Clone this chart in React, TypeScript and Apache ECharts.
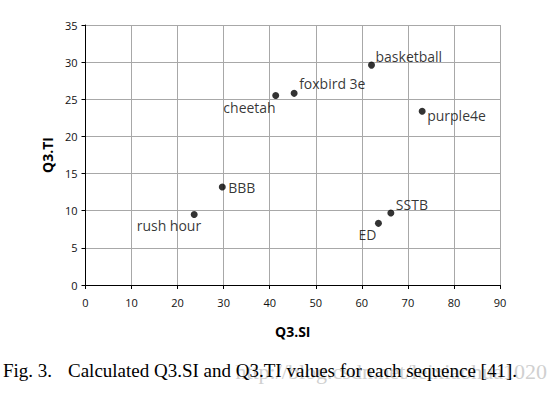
import React, { useEffect, useRef } from "react";
import * as echarts from "echarts";

const names = ["basketball", "foxbird 3e", "cheetah", "purple4e", "BBB", "rush hour", "SSTB", "ED"];
const siValues = [62.1, 45.3, 41.3, 73.1, 29.7, 23.6, 66.3, 63.6];
const tiValues = [29.6, 25.8, 25.5, 23.4, 13.2, 9.5, 9.7, 8.3];

// label placement: [align, dx, dy]
const labelPlacement: [string, number, number][] = [
  ["left", 4, -9],
  ["left", 5, -10],
  ["right", 0, 12],
  ["left", 5, 4],
  ["left", 6, 1],
  ["right", 7, 11],
  ["left", 5, -8],
  ["right", -2, 11],
];

const captionLabel = "Fig. 3.";
const captionText = "Calculated Q3.SI and Q3.TI values for each sequence [41].";
const watermark = "http://blog.csdn.net/leixiaohua1020";

export default function App() {
  const ref = useRef<HTMLDivElement>(null);
  useEffect(() => {
    const chart = echarts.init(ref.current!, null, { renderer: "svg" });
    const data = names.map((n, i) => ({
      name: n,
      value: [siValues[i], tiValues[i]],
      label: {
        show: true,
        position: "inside",
        align: labelPlacement[i][0],
        verticalAlign: "middle",
        offset: [labelPlacement[i][1], labelPlacement[i][2]],
        formatter: "{b}",
        color: "#000",
        fontFamily: "Open Sans",
        fontSize: 14,
      },
    }));
    chart.setOption({
      animation: false,
      backgroundColor: "#ffffff",
      grid: { left: 85.5, right: 48, top: 25, bottom: 110 },
      xAxis: {
        type: "value",
        min: 0,
        max: 90,
        interval: 10,
        name: "Q3.SI",
        nameLocation: "middle",
        nameGap: 39,
        nameTextStyle: { fontFamily: "Open Sans", fontWeight: "bold", fontSize: 14, color: "#000" },
        axisLine: { show: true, onZero: false, lineStyle: { color: "#000", width: 1 } },
        axisTick: { show: true, length: 4, lineStyle: { color: "#000" } },
        axisLabel: { fontFamily: "Open Sans", fontSize: 11, color: "#111", margin: 12 },
        splitLine: { show: true, lineStyle: { color: "#a8a8a8", width: 1 } },
      },
      yAxis: {
        type: "value",
        min: 0,
        max: 35,
        interval: 5,
        name: "Q3.TI",
        nameLocation: "middle",
        nameGap: 31,
        nameRotate: 90,
        nameTextStyle: { fontFamily: "Open Sans", fontWeight: "bold", fontSize: 14, color: "#000" },
        axisLine: { show: true, onZero: false, lineStyle: { color: "#000", width: 1 } },
        axisTick: { show: true, length: 4, lineStyle: { color: "#000" } },
        axisLabel: { fontFamily: "Open Sans", fontSize: 11, color: "#111", margin: 8 },
        splitLine: { show: true, lineStyle: { color: "#a8a8a8", width: 1 } },
      },
      series: [
        {
          type: "scatter",
          symbol: "circle",
          symbolSize: 7,
          itemStyle: { color: "#000" },
          data,
          z: 3,
        },
      ],
      graphic: [
        {
          type: "text",
          right: 1,
          top: 360,
          style: {
            text: watermark,
            fill: "#d0d0d0",
            font: "22px 'Liberation Serif'",
          },
          z: 1,
        },
        {
          type: "text",
          left: 3,
          top: 361,
          style: { text: captionLabel, fill: "#000", font: "19px 'Liberation Serif'" },
          z: 2,
        },
        {
          type: "text",
          left: 68,
          top: 361,
          style: { text: captionText, fill: "#000", font: "19px 'Liberation Serif'" },
          z: 2,
        },
      ],
    });
    return () => chart.dispose();
  }, []);
  return <div ref={ref} style={{ width: 548, height: 395, position: "absolute", left: 0, top: 0 }} />;
}
